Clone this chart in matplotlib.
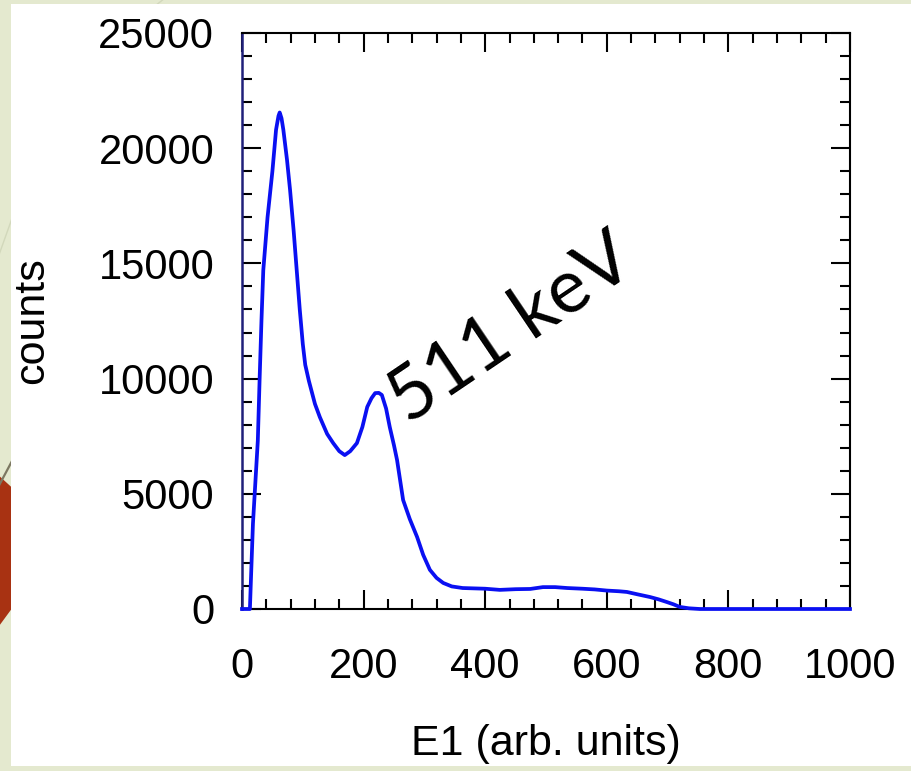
import matplotlib.pyplot as plt
from matplotlib.patches import Rectangle, Polygon
from matplotlib.lines import Line2D
from matplotlib.ticker import MultipleLocator

# spectrum (E1 in arb. units, counts)
energy = [0, 13, 15, 18, 22, 26, 29, 32, 35, 42, 50, 56, 60, 62, 65, 68, 74, 79, 85, 90,
          95, 100, 104, 110, 120, 128, 140, 150, 160, 169, 178, 189, 198, 206, 213, 219,
          225, 230, 237, 243, 250, 255, 265, 276, 288, 298, 309, 320, 331, 345, 363,
          400, 424, 450, 474, 495, 515, 535, 560, 580, 600, 620, 633, 650, 671, 685,
          699, 710, 720, 735, 753, 800, 900, 1000]
counts = [0, 0, 1500, 3700, 5500, 7300, 10000, 12500, 14700, 17000, 19000, 20800, 21400,
          21550, 21300, 20800, 19500, 18200, 16400, 14700, 13000, 11500, 10600, 9900,
          8900, 8330, 7600, 7200, 6850, 6680, 6850, 7200, 7900, 8770, 9150, 9370, 9380,
          9290, 8700, 7900, 7100, 6470, 4730, 3900, 3125, 2350, 1700, 1350, 1130, 980,
          910, 880, 830, 860, 870, 950, 950, 910, 880, 850, 800, 770, 740, 640, 520, 420,
          300, 200, 90, 30, 0, 0, 0, 0]

x_major = 200
x_minor = 40
y_major = 5000
y_minor = 1000

W, H = 912, 771
plt.rcParams['font.family'] = ['Liberation Sans', 'DejaVu Sans']

fig = plt.figure(figsize=(W / 100, H / 100), dpi=100, facecolor='#e4e9cf')


def fx(x):
    return x / W


def fy(y):
    return 1 - y / H


# slide decorations behind the white panel
fig.patches.append(Polygon([(fx(-50), fy(431)), (fx(65), fy(536)), (fx(-50), fy(693))],
                           closed=True, transform=fig.transFigure, facecolor='#a83212',
                           edgecolor='none', zorder=-3))
fig.lines.append(Line2D([fx(-5), fx(20)], [fy(493), fy(446)], transform=fig.transFigure,
                        color='#7c7862', lw=1.6, zorder=-2))
fig.lines.append(Line2D([fx(-5), fx(20)], [fy(266), fy(196)], transform=fig.transFigure,
                        color='#d2d8bb', lw=1.0, zorder=-2))
fig.lines.append(Line2D([fx(150), fx(175)], [fy(10), fy(-10)], transform=fig.transFigure,
                        color='#d2d8bb', lw=1.0, zorder=-2))
fig.patches.append(Rectangle((fx(11), fy(766)), (W - 11) / W, 762 / H,
                             transform=fig.transFigure, facecolor='white',
                             edgecolor='none', zorder=-1))

ax = fig.add_axes([242 / W, fy(609), 608 / W, 576 / H])
ax.set_facecolor('white')
ax.plot(energy, counts, color='#0a10f2', lw=2.7, zorder=3, clip_on=False)

ax.set_xlim(0, 1000)
ax.set_ylim(0, 25000)
ax.xaxis.set_major_locator(MultipleLocator(x_major))
ax.xaxis.set_minor_locator(MultipleLocator(x_minor))
ax.yaxis.set_major_locator(MultipleLocator(y_major))
ax.yaxis.set_minor_locator(MultipleLocator(y_minor))

ax.tick_params(which='both', direction='in', top=True, right=True, width=1.5, colors='black')
ax.tick_params(which='major', length=14)
ax.tick_params(which='minor', length=7)
ax.tick_params(axis='x', labelsize=30, pad=27)
ax.tick_params(axis='y', labelsize=30, pad=20)

for side in ['top', 'right', 'bottom']:
    ax.spines[side].set_linewidth(1.5)
    ax.spines[side].set_color('black')
ax.spines['left'].set_linewidth(1.8)
ax.spines['left'].set_color('#20207a')

ax.set_xlabel('E1 (arb. units)', fontsize=31, labelpad=27)
ax.set_ylabel('counts', fontsize=31, labelpad=33)

ax.text(443, 12150, '511 keV', rotation=34, fontsize=54, family=['Lato', 'DejaVu Sans'],
        ha='center', va='center', color='black', zorder=4)

fig.savefig('out.png', dpi=100, facecolor=fig.get_facecolor())
